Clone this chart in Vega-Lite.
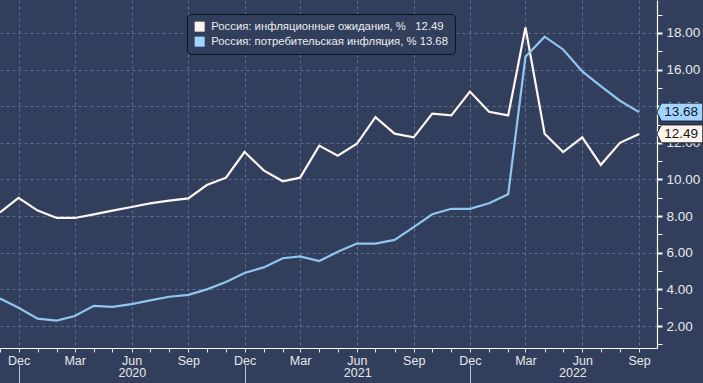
{
  "$schema": "https://vega.github.io/schema/vega-lite/v6.json",
  "width": 657,
  "height": 348,
  "autosize": {"type": "none"},
  "padding": {"left": 0, "top": 0, "right": 46, "bottom": 35},
  "background": "#323f5c",
  "config": {"view": {"stroke": null, "fill": "#323f5c"}, "font": "Liberation Sans"},
  "resolve": {"axis": {"x": "independent", "y": "independent"}},
  "layer": [
    {
      "data": {"values": [
        {"date": "2019-11-01", "exp": 8.2, "cpi": 3.5},
        {"date": "2019-12-01", "exp": 9.0, "cpi": 3.0},
        {"date": "2020-01-01", "exp": 8.3, "cpi": 2.4},
        {"date": "2020-02-01", "exp": 7.9, "cpi": 2.3},
        {"date": "2020-03-01", "exp": 7.9, "cpi": 2.55},
        {"date": "2020-04-01", "exp": 8.1, "cpi": 3.1},
        {"date": "2020-05-01", "exp": 8.3, "cpi": 3.05},
        {"date": "2020-06-01", "exp": 8.5, "cpi": 3.2},
        {"date": "2020-07-01", "exp": 8.7, "cpi": 3.4},
        {"date": "2020-08-01", "exp": 8.85, "cpi": 3.6},
        {"date": "2020-09-01", "exp": 8.97, "cpi": 3.7},
        {"date": "2020-10-01", "exp": 9.7, "cpi": 4.0},
        {"date": "2020-11-01", "exp": 10.1, "cpi": 4.4},
        {"date": "2020-12-01", "exp": 11.5, "cpi": 4.9},
        {"date": "2021-01-01", "exp": 10.5, "cpi": 5.2},
        {"date": "2021-02-01", "exp": 9.9, "cpi": 5.7},
        {"date": "2021-03-01", "exp": 10.1, "cpi": 5.8},
        {"date": "2021-04-01", "exp": 11.85, "cpi": 5.55},
        {"date": "2021-05-01", "exp": 11.3, "cpi": 6.05},
        {"date": "2021-06-01", "exp": 11.95, "cpi": 6.5},
        {"date": "2021-07-01", "exp": 13.4, "cpi": 6.5},
        {"date": "2021-08-01", "exp": 12.5, "cpi": 6.7},
        {"date": "2021-09-01", "exp": 12.3, "cpi": 7.4},
        {"date": "2021-10-01", "exp": 13.6, "cpi": 8.1},
        {"date": "2021-11-01", "exp": 13.5, "cpi": 8.4},
        {"date": "2021-12-01", "exp": 14.8, "cpi": 8.4},
        {"date": "2022-01-01", "exp": 13.7, "cpi": 8.7},
        {"date": "2022-02-01", "exp": 13.5, "cpi": 9.2},
        {"date": "2022-03-01", "exp": 18.3, "cpi": 16.7},
        {"date": "2022-04-01", "exp": 12.5, "cpi": 17.8},
        {"date": "2022-05-01", "exp": 11.5, "cpi": 17.1},
        {"date": "2022-06-01", "exp": 12.3, "cpi": 15.9},
        {"date": "2022-07-01", "exp": 10.8, "cpi": 15.1},
        {"date": "2022-08-01", "exp": 12.0, "cpi": 14.3},
        {"date": "2022-09-01", "exp": 12.49, "cpi": 13.68}
      ]},
      "transform": [{"fold": ["exp", "cpi"], "as": ["series", "value"]}],
      "mark": {"type": "line", "strokeWidth": 2.2},
      "encoding": {
        "x": {
          "field": "date", "type": "temporal",
          "scale": {"type": "utc", "domain": [{"year": 2019, "month": 11, "date": 1, "utc": true}, {"year": 2022, "month": 9, "date": 30, "utc": true}]},
          "axis": {
            "orient": "bottom",
            "title": null,
            "tickCount": {"interval": "month", "step": 1},
            "labelExpr": "utcmonth(datum.value) % 3 == 2 ? utcFormat(datum.value, '%b') : ''",
            "labelOverlap": false, "labelFlush": false,
            "domainColor": "#ffffff", "domainWidth": 1.2,
            "tickColor": "#e6e6e6", "tickSize": 4,
            "labelPadding": 2, "labelFontSize": 12.5, "labelColor": "#e8e8e8",
            "grid": true, "gridColor": "#5d6e92", "gridDash": [3, 3],
            "gridOpacity": {"condition": {"test": "utcmonth(datum.value) % 3 == 2", "value": 1}, "value": 0}
          }
        },
        "y": {
          "field": "value", "type": "quantitative",
          "scale": {"domain": [0.8, 19.8], "nice": false, "zero": false},
          "axis": {
            "orient": "right", "title": null,
            "values": [1, 2, 3, 4, 5, 6, 7, 8, 9, 10, 11, 12, 13, 14, 15, 16, 17, 18, 19],
            "labelExpr": "datum.value % 2 == 0 ? format(datum.value, '.2f') : ''",
            "labelOverlap": false,
            "domainColor": "#ffffff", "domainWidth": 1.2,
            "tickColor": "#ffffff", "tickSize": 5,
            "tickWidth": {"condition": {"test": "datum.value % 2 == 0", "value": 2}, "value": 1},
            "labelPadding": 4, "labelFontSize": 13.5, "labelColor": "#e8e8e8",
            "grid": true, "gridColor": "#5d6e92", "gridDash": [3, 3],
            "gridOpacity": {"condition": {"test": "datum.value % 2 == 0", "value": 1}, "value": 0}
          }
        },
        "color": {"field": "series", "type": "nominal", "scale": {"domain": ["exp", "cpi"], "range": ["#fdf6f3", "#8fc6f0"]}, "legend": null}
      }
    },
    {
      "data": {"values": [
        {"date": "2022-09-01", "name": "e", "value": 12.49},
        {"date": "2022-09-01", "name": "c", "value": 13.68}
      ]},
      "mark": {"type": "point", "shape": "M-1,0L-0.8,-0.39L1,-0.39L1,0.39L-0.8,0.39Z", "size": 2116, "filled": true, "opacity": 1, "stroke": "#1c2232", "strokeWidth": 1, "xOffset": 40.7},
      "encoding": {
        "x": {
          "field": "date", "type": "temporal",
          "axis": {
            "orient": "bottom",
            "title": null,
            "values": [
              {"year": 2020, "month": 6, "date": 1, "hours": 12, "utc": true},
              {"year": 2021, "month": 6, "date": 1, "hours": 12, "utc": true},
              {"year": 2022, "month": 5, "date": 16, "utc": true}
            ],
            "labelExpr": "utcFormat(datum.value, '%Y')",
            "ticks": false, "domain": false, "grid": false,
            "offset": 18, "labelPadding": 0, "labelFontSize": 12.5, "labelColor": "#e8e8e8",
            "labelOverlap": false, "labelFlush": false
          }
        },
        "y": {"field": "value", "type": "quantitative", "axis": null},
        "fill": {
          "field": "name", "type": "nominal",
          "scale": {"domain": ["e", "c"], "range": ["#fff3ec", "#a3d3ff"]},
          "legend": {
            "orient": "none", "legendX": 187, "legendY": 14, "title": null, "direction": "vertical",
            "symbolType": "square", "symbolSize": 100, "symbolStrokeWidth": 0, "symbolOpacity": 1,
            "labelFont": "Liberation Sans", "labelFontSize": 11.3, "labelColor": "#ececec",
            "fillColor": "#323f5c", "strokeColor": "#0d1220", "cornerRadius": 4, "padding": 7, "rowPadding": 3,
            "labelLimit": 400, "labelOffset": 6,
            "labelExpr": "datum.label == 'e' ? 'Россия: инфляционные ожидания, %\u00a0\u00a0\u00a012.49' : 'Россия: потребительская инфляция, %\u00a013.68'"
          }
        }
      }
    },
    {
      "data": {"values": [
        {"date": "2022-09-01", "series": "exp", "value": 12.49},
        {"date": "2022-09-01", "series": "cpi", "value": 13.68}
      ]},
      "mark": {"type": "text", "xOffset": 42, "fontSize": 13.5, "color": "#141821", "align": "center", "baseline": "middle"},
      "encoding": {
        "x": {
          "field": "date", "type": "temporal",
          "axis": {
            "orient": "bottom",
            "title": null,
            "values": [
              {"year": 2019, "month": 12, "date": 1, "utc": true},
              {"year": 2020, "month": 12, "date": 1, "utc": true},
              {"year": 2021, "month": 12, "date": 1, "utc": true}
            ],
            "labels": false, "domain": false, "grid": false,
            "ticks": true, "tickSize": 20, "tickColor": "#bfc4ce", "tickWidth": 1,
            "offset": 17
          }
        },
        "y": {"field": "value", "type": "quantitative", "axis": null},
        "text": {"field": "value", "type": "quantitative", "format": ".2f"}
      }
    }
  ]
}
